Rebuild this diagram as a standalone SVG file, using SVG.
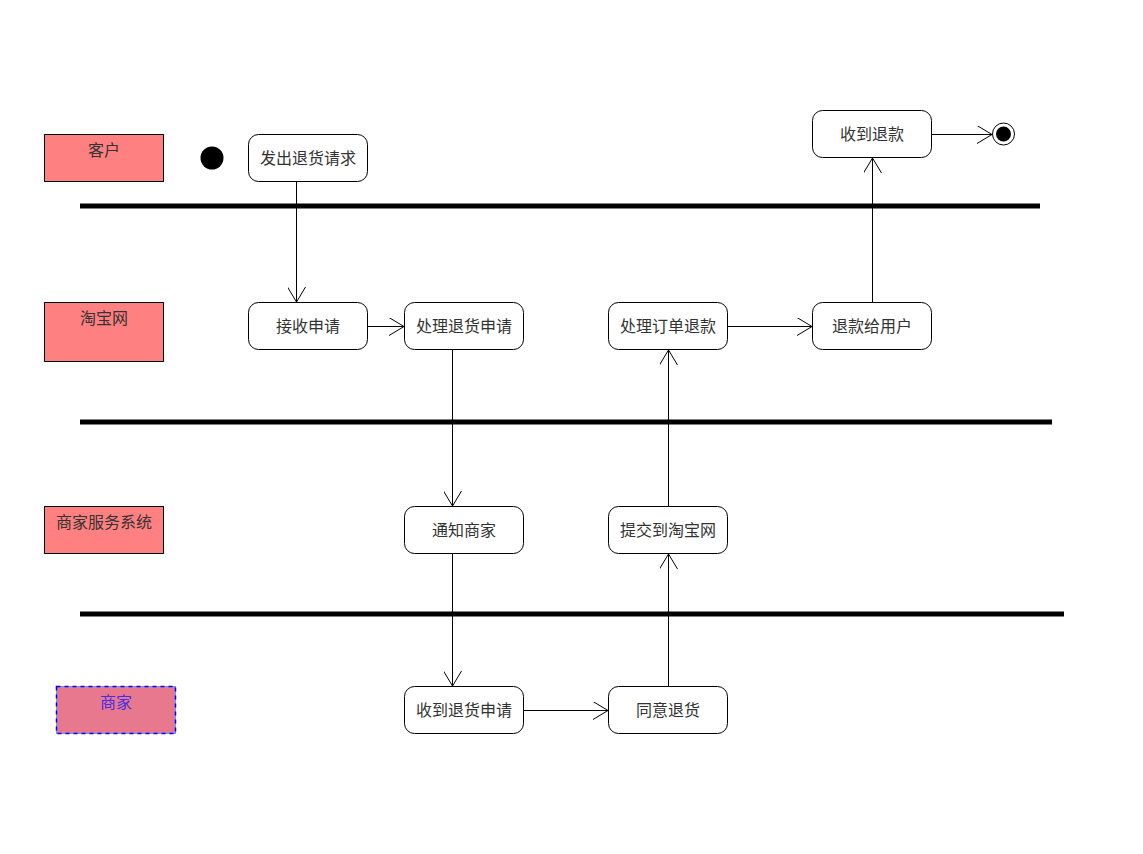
<svg xmlns="http://www.w3.org/2000/svg" width="1143" height="854" viewBox="0 0 1143 854">
<style>
.lane{fill:#ff8080;stroke:#000;stroke-width:1}
.lt{font-family:"Liberation Serif","Noto Sans CJK SC",serif;font-size:16px;fill:#333;text-anchor:middle}
.node rect{fill:#fff;stroke:#000;stroke-width:1}
.nt{font-family:"Liberation Serif","Noto Sans CJK SC",serif;font-size:16px;fill:#333;text-anchor:middle}
.sep{stroke:#000;stroke-width:5}
.c{stroke:#000;stroke-width:1;fill:none;marker-end:url(#ah)}
</style>
<defs>
<marker id="ah" viewBox="0 0 16 18" refX="15" refY="9" markerWidth="16" markerHeight="18" markerUnits="userSpaceOnUse" orient="auto">
<path d="M0,0 L15,9 L0,18" fill="none" stroke="#000" stroke-width="1"/>
</marker>
</defs>
<rect width="1143" height="854" fill="#fff"/>
<g id="separators">
<line class="sep" x1="80" y1="206" x2="1040" y2="206"/>
<line class="sep" x1="80" y1="422" x2="1052" y2="422"/>
<line class="sep" x1="80" y1="614" x2="1064" y2="614"/>
</g>
<g id="lane-customer"><rect class="lane" x="44.5" y="134.5" width="119" height="47"/><text class="lt" x="104" y="156">客户</text></g>
<g id="lane-taobao"><rect class="lane" x="44.5" y="302.5" width="119" height="59"/><text class="lt" x="104" y="324">淘宝网</text></g>
<g id="lane-system"><rect class="lane" x="44.5" y="506.5" width="119" height="47"/><text class="lt" x="104" y="528">商家服务系统</text></g>
<g id="lane-merchant"><rect x="56.5" y="686.5" width="119" height="47" fill="#e8788e" stroke="#5aa0ff" stroke-width="1"/><rect x="56.5" y="686.5" width="119" height="47" fill="none" stroke="#0000ff" stroke-width="1.5" stroke-dasharray="4,4"/><text class="lt" x="116" y="708" style="fill:#4a2ce0">商家</text></g>
<g id="start"><circle cx="212" cy="158" r="11.5" fill="#000"/></g>
<g id="n-request" class="node"><rect x="248.5" y="134.5" width="119" height="47" rx="10"/><text class="nt" x="308" y="164">发出退货请求</text></g>
<g id="n-refund-received" class="node"><rect x="812.5" y="110.5" width="119" height="47" rx="10"/><text class="nt" x="872" y="140">收到退款</text></g>
<g id="end"><circle cx="1003.5" cy="134" r="11" fill="#fff" stroke="#000" stroke-width="1"/><circle cx="1003.5" cy="134" r="7.5" fill="#000"/></g>
<g id="n-receive" class="node"><rect x="248.5" y="302.5" width="119" height="47" rx="10"/><text class="nt" x="308" y="332">接收申请</text></g>
<g id="n-process-return" class="node"><rect x="404.5" y="302.5" width="119" height="47" rx="10"/><text class="nt" x="464" y="332">处理退货申请</text></g>
<g id="n-process-refund" class="node"><rect x="608.5" y="302.5" width="119" height="47" rx="10"/><text class="nt" x="668" y="332">处理订单退款</text></g>
<g id="n-refund-user" class="node"><rect x="812.5" y="302.5" width="119" height="47" rx="10"/><text class="nt" x="872" y="332">退款给用户</text></g>
<g id="n-notify" class="node"><rect x="404.5" y="506.5" width="119" height="47" rx="10"/><text class="nt" x="464" y="536">通知商家</text></g>
<g id="n-submit" class="node"><rect x="608.5" y="506.5" width="119" height="47" rx="10"/><text class="nt" x="668" y="536">提交到淘宝网</text></g>
<g id="n-got-return" class="node"><rect x="404.5" y="686.5" width="119" height="47" rx="10"/><text class="nt" x="464" y="716">收到退货申请</text></g>
<g id="n-agree" class="node"><rect x="608.5" y="686.5" width="119" height="47" rx="10"/><text class="nt" x="668" y="716">同意退货</text></g>
<g id="connectors">
<line class="c" x1="296.5" y1="181.5" x2="296.5" y2="302"/>
<line class="c" x1="367.5" y1="326.5" x2="404" y2="326.5"/>
<line class="c" x1="452.5" y1="349.5" x2="452.5" y2="506"/>
<line class="c" x1="452.5" y1="553.5" x2="452.5" y2="686"/>
<line class="c" x1="523.5" y1="710.5" x2="608" y2="710.5"/>
<line class="c" x1="668.5" y1="686.5" x2="668.5" y2="554"/>
<line class="c" x1="668.5" y1="506.5" x2="668.5" y2="350"/>
<line class="c" x1="727.5" y1="326.5" x2="812" y2="326.5"/>
<line class="c" x1="872.5" y1="302.5" x2="872.5" y2="158"/>
<line class="c" x1="931.5" y1="134.5" x2="992" y2="134.5"/>
</g>
</svg>
